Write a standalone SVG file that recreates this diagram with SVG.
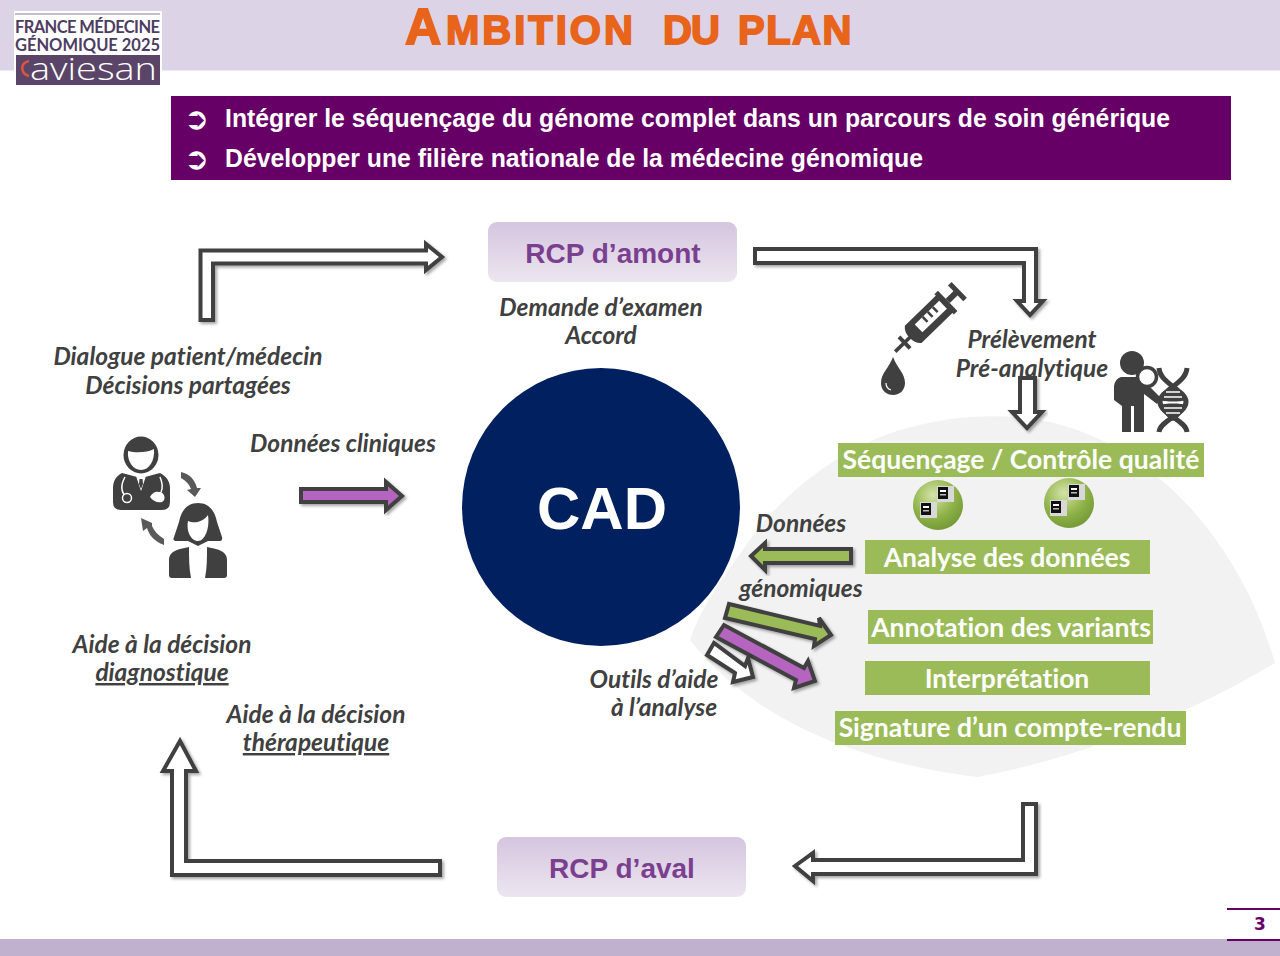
<svg xmlns="http://www.w3.org/2000/svg" width="1280" height="956" viewBox="0 0 1280 956">
<style>
text{font-variant-ligatures:none}
.it{font-family:"Lato","Open Sans",sans-serif;font-style:italic;font-weight:700;font-size:24.500px;fill:#404040;text-anchor:middle}
.gr{fill:#9bbb59}
.gt{font-family:"Lato","Open Sans",sans-serif;font-weight:700;font-size:26.500px;fill:#fff;text-anchor:middle}
.rcp{font-family:"Liberation Sans",Arial,sans-serif;font-weight:700;font-size:28px;fill:#7b3f8f;text-anchor:middle}
.bul{font-family:"Liberation Sans",Arial,sans-serif;font-weight:700;font-size:25.500px;fill:#fff}
.sym{font-family:"DejaVu Sans",sans-serif;font-size:30px;fill:#fff}
.ar{stroke:#404040;stroke-width:4;stroke-linejoin:miter;filter:url(#sh)}
.ic{fill:#404040}
.ls{font-family:"Lato","Open Sans",sans-serif;font-weight:700;font-size:16.500px;fill:#4d3d62}
</style>
<defs>
<filter id="sh" x="-20%" y="-20%" width="140%" height="140%"><feDropShadow dx="2" dy="2" stdDeviation="1.6" flood-color="#000" flood-opacity=".35"/></filter>
<linearGradient id="rg" x1="0" y1="0" x2="0" y2="1"><stop offset="0" stop-color="#d5c5df"/><stop offset="1" stop-color="#ece6f0"/></linearGradient>
<radialGradient id="ball" cx=".4" cy=".3" r=".8"><stop offset="0" stop-color="#d4e3a8"/><stop offset=".55" stop-color="#8fb348"/><stop offset="1" stop-color="#6d9232"/></radialGradient>
<g id="srv"><rect x="0" y="0" width="17" height="16" fill="#d8d8d8"/><rect x="1" y="1" width="10" height="12" fill="#111"/><rect x="3" y="4" width="6" height="2" fill="#fff"/><rect x="3" y="8" width="6" height="1.500" fill="#bbb"/></g>
</defs>
<rect id="header-band" x="0" y="0" width="1280" height="70.500" fill="#dcd3e6"/>
<rect id="footer-band" x="0" y="939" width="1280" height="17" fill="#c0b2cf"/>
<path id="fan" d="M690 640C700 610 720 580 743 550C775 500 835 450 900 430C950 415 1000 413 1040 420C1150 440 1240 540 1275 663C1180 720 1070 760 977 777C880 765 760 730 690 640Z" fill="#f2f2f2"/>

<g id="logo">
<rect x="14" y="11" width="148" height="75" fill="#fff"/>
<rect x="15" y="13.500" width="145" height="1" fill="#8a7f95"/>
<text x="15" y="33" class="ls" textLength="145">FRANCE MÉDECINE</text>
<text x="15" y="50.500" class="ls" textLength="145">GÉNOMIQUE 2025</text>
<rect x="16" y="55" width="144" height="30" fill="#5a4568"/>
<path d="M29 61C20 63 20 73 29 76" fill="none" stroke="#d9573f" stroke-width="2.500"/>
<text x="30" y="80" font-family="'Open Sans',sans-serif" font-weight="300" font-size="31" fill="#fff" textLength="127" lengthAdjust="spacingAndGlyphs">aviesan</text>
</g>
<text id="title" y="44" font-family="'Liberation Sans',Arial,sans-serif" font-weight="700" fill="#e8641b" font-size="40" stroke="#e8641b" stroke-width="1.800"><tspan x="405" font-size="50">A</tspan><tspan x="446" letter-spacing="3">MBITION </tspan><tspan x="663" letter-spacing="-1">DU </tspan><tspan x="738" letter-spacing="1.500">PLAN</tspan></text>

<g id="objectives">
<rect x="171" y="96" width="1060" height="84" fill="#660066"/>
<text x="184" y="129" class="sym">➲</text>
<text x="225" y="127" class="bul" textLength="945" lengthAdjust="spacingAndGlyphs">Intégrer le séquençage du génome complet dans un parcours de soin générique</text>
<text x="184" y="169" class="sym">➲</text>
<text x="225" y="167" class="bul" textLength="698" lengthAdjust="spacingAndGlyphs">Développer une filière nationale de la médecine génomique</text>
</g>

<g id="connectors">
<path class="ar" fill="#fff" d="M200.500 320V250.500H426V244L442 257L426 270V263.500H213V320Z"/>
<path class="ar" fill="#fff" d="M755 249H1036V301H1043L1030 315L1017 301H1024V263H755Z"/>
<path class="ar" fill="#fff" d="M1020 378H1035V412H1042L1027 428L1012 412H1020Z"/>
<path class="ar" fill="#fff" d="M1036 804V874H813V881L795 866L813 853V860H1023V804Z"/>
<path class="ar" fill="#fff" d="M440 861V875H172V771H163L180 741L196 771H186V861Z"/>
<path class="ar" fill="#b565c0" d="M301 489H386V482L402 496L386 510V502H301Z"/>
<path class="ar" fill="#9bbb59" d="M851 549H765V543L751 556L765 570V563H851Z"/>
<path class="ar" fill="#9bbb59" d="M729 604L820 626L819 618L831 635L814 646L815 639L725 618Z"/>
<path class="ar" fill="#b565c0" d="M724 625L716 637L796 680L794 688L815 681L808 661L804 668Z"/>
<path class="ar" fill="#fff" d="M714 643L707 655L735 673L733 682L753 677L748 658L745 666Z"/>
</g>

<g id="rcp-amont"><rect x="488" y="222" width="249" height="60" rx="9" fill="url(#rg)"/><text x="613" y="263" class="rcp">RCP d’amont</text></g>
<g id="rcp-aval"><rect x="497" y="837" width="249" height="60" rx="9" fill="url(#rg)"/><text x="622" y="878" class="rcp">RCP d’aval</text></g>

<g id="cad"><circle cx="601" cy="507" r="139" fill="#002060"/><text x="602" y="529" font-family="'Liberation Sans',Arial,sans-serif" font-weight="700" font-size="60" fill="#fff" text-anchor="middle">CAD</text></g>

<g id="labels">
<text x="601" y="316" class="it">Demande d’examen</text>
<text x="601" y="344" class="it">Accord</text>
<text x="188" y="365" class="it">Dialogue patient/médecin</text>
<text x="188" y="394" class="it">Décisions partagées</text>
<text x="343" y="452" class="it">Données cliniques</text>
<text x="1032" y="348" class="it">Prélèvement</text>
<text x="1032" y="377" class="it">Pré-analytique</text>
<text x="801" y="532" class="it">Données</text>
<text x="801" y="597" class="it">génomiques</text>
<text x="654" y="688" class="it">Outils d’aide</text>
<text x="664" y="716" class="it">à l’analyse</text>
<text x="162" y="653" class="it">Aide à la décision</text>
<text x="162" y="681" class="it" text-decoration="underline">diagnostique</text>
<text x="316" y="723" class="it">Aide à la décision</text>
<text x="316" y="751" class="it" text-decoration="underline">thérapeutique</text>
</g>

<g id="step-sequencage"><rect class="gr" x="838" y="443" width="366" height="34"/><text x="1021" y="469" class="gt">Séquençage / Contrôle qualité</text></g>
<g id="step-analyse"><rect class="gr" x="865" y="540" width="285" height="34"/><text x="1007" y="567" class="gt">Analyse des données</text></g>
<g id="step-annotation"><rect class="gr" x="868" y="610" width="285" height="34"/><text x="1011" y="637" class="gt">Annotation des variants</text></g>
<g id="step-interpretation"><rect class="gr" x="865" y="661" width="285" height="34"/><text x="1007" y="688" class="gt">Interprétation</text></g>
<g id="step-signature"><rect class="gr" x="835" y="711" width="351" height="34"/><text x="1010" y="737" class="gt">Signature d’un compte-rendu</text></g>

<g id="ball-1"><circle cx="938" cy="505" r="25" fill="url(#ball)"/><use href="#srv" x="920" y="502"/><use href="#srv" x="937" y="486"/></g>
<g id="ball-2"><circle cx="1069" cy="503" r="25" fill="url(#ball)"/><use href="#srv" x="1050" y="500"/><use href="#srv" x="1068" y="484"/></g>

<g id="icon-syringe">
<g transform="translate(929 319) rotate(-44)" class="ic">
<path d="M-22 -12H22V12H-22Q-27 8 -27 0Q-27 -8 -22 -12Z"/>
<rect x="-14" y="-6" width="34" height="11" fill="#fff"/>
<path d="M4 -6V1M-3 -6V1M11 -6V1" stroke="#404040" stroke-width="2.500"/>
<rect x="21" y="-14" width="5" height="28"/>
<rect x="26" y="-3" width="14" height="6"/>
<rect x="37" y="-11" width="5" height="22"/>
<rect x="-47" y="-1.800" width="21" height="3.600"/>
<rect x="-36" y="-8" width="4" height="16"/>
</g>
<path class="ic" d="M893 357C889 368 881 373 881 383C881 391 887 395 893 395C900 395 905 390 905 383C905 373 897 368 893 357Z"/>
<path d="M886 383C886 386 888 389 891 390" stroke="#fff" stroke-width="1.200" fill="none"/>
</g>
<g id="icon-researcher">
<circle class="ic" cx="1132" cy="363" r="12"/>
<path class="ic" d="M1121 377H1142L1147 384L1161 398L1157 404L1144 394V432H1134V406H1131V432H1122V406L1114 400V386Q1115 379 1121 377Z"/>
<circle cx="1147" cy="377" r="9.500" fill="#fff" stroke="#404040" stroke-width="3.500"/>
<path d="M1159 368C1160 384 1186 390 1186 402C1186 414 1160 420 1159 432M1187 368C1186 384 1160 390 1160 402C1160 414 1186 420 1187 432" fill="none" stroke="#404040" stroke-width="5"/>
<path class="ic" d="M1173 384C1180 388 1184 394 1184 400C1184 402 1162 402 1162 400C1162 394 1166 388 1173 384ZM1173 421C1180 417 1184 411 1184 405C1184 403 1162 403 1162 405C1162 411 1166 417 1173 421Z"/>
<path d="M1166 392H1180M1164 397H1182M1164 408H1182M1166 413H1180" stroke="#fff" stroke-width="1.500"/>
</g>
<g id="icon-doctor">
<ellipse class="ic" cx="141" cy="455" rx="17.500" ry="18.500"/>
<path d="M128 451C135 453 147 453 154 449C155 461 149 470 141 470C133 470 127 461 128 451Z" fill="#fff"/>
<path class="ic" d="M122 473L137 477L141 490L145 477L160 473C166 476 170 481 170 488V502Q170 510 162 510H121Q113 510 113 502V488C113 481 116 476 122 473Z"/>
<path d="M136 476L141 491L146 476L143 479H139Z" fill="#fff"/>
<path d="M139.500 479H142.500L143 484L141 489L139 484Z" fill="#404040"/>
<path d="M125 477C120 486 122 493 126 497M160 477C163 484 163 488 161 492" fill="none" stroke="#fff" stroke-width="1.500"/>
<circle cx="127" cy="498" r="4.500" fill="#404040" stroke="#fff" stroke-width="1.500"/>
<path d="M150 497C154 490 158 492 161 492C165 494 166 500 162 502C157 503 153 501 150 497Z" fill="#fff"/>
<path d="M181 472C190 474 195 480 197 488L201 488L195 497L187 490L191 489C189 484 186 481 181 478Z" fill="#595959"/>
<path d="M164 545C154 541 149 535 147 528L143 531L141 518L152 523L152 526C154 531 158 535 164 539Z" fill="#595959"/>
</g>
<g id="icon-patient">
<path class="ic" d="M198 503C210 503 215 512 217 522L222 537Q223 541 219 541H208L198 546L188 541H177Q172 541 174 537L179 522C181 512 186 503 198 503Z"/>
<path d="M188 521C194 524 203 522 208 515C210 528 205 541 198 541C191 541 186 531 188 521Z" fill="#fff"/>
<path class="ic" d="M180 549L189 547C189 558 189 568 191 578H172Q169 578 169 575V560C169 554 173 551 180 549ZM216 549L207 547C207 558 207 568 205 578H224Q227 578 227 575V560C227 554 223 551 216 549Z"/>
</g>

<g id="page-number">
<path d="M1227 909H1280M1227 940H1280" stroke="#660066" stroke-width="2"/>
<text x="1260" y="930" font-family="'DejaVu Sans',sans-serif" font-weight="700" font-size="17" fill="#660066" text-anchor="middle">3</text>
</g>
</svg>
